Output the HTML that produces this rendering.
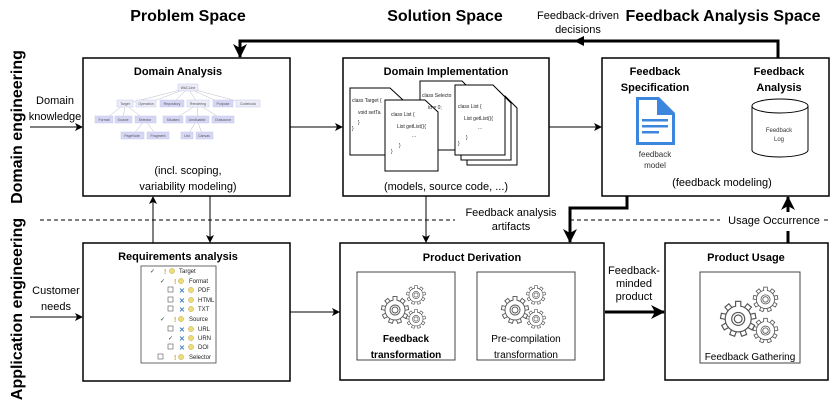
<!DOCTYPE html>
<html><head><meta charset="utf-8"><style>
html,body{margin:0;padding:0;background:#fff;}
svg{display:block;font-family:"Liberation Sans",Arial,sans-serif;}
</style></head><body>
<svg width="831" height="413" viewBox="0 0 831 413" xmlns="http://www.w3.org/2000/svg">
<defs>
<marker id="a" markerWidth="8" markerHeight="8" refX="7" refY="4" orient="auto" markerUnits="userSpaceOnUse"><path d="M0,0 L8,4 L0,8 L2,4 Z" fill="#000"/></marker>
<marker id="A" markerWidth="14" markerHeight="14" refX="13" refY="7" orient="auto" markerUnits="userSpaceOnUse"><path d="M0,0 L14,7 L0,14 L4,7 Z" fill="#000"/></marker>
<g id="tooth"><rect x="-2" y="-13.5" width="4" height="5" fill="#fff" stroke="#555" stroke-width="0.9"/></g>
<g id="gear1">
<use href="#tooth"/><use href="#tooth" transform="rotate(40)"/><use href="#tooth" transform="rotate(80)"/><use href="#tooth" transform="rotate(120)"/><use href="#tooth" transform="rotate(160)"/><use href="#tooth" transform="rotate(200)"/><use href="#tooth" transform="rotate(240)"/><use href="#tooth" transform="rotate(280)"/><use href="#tooth" transform="rotate(320)"/>
<circle r="10" fill="#fff" stroke="#555" stroke-width="0.9"/><rect x="-1.5" y="-11" width="3" height="3" fill="#fff"/>
<circle r="5" fill="none" stroke="#555" stroke-width="0.9"/><circle r="3" fill="none" stroke="#555" stroke-width="0.9"/></g>
<g id="gear2" transform="scale(0.7)"><use href="#gear1"/></g>
<g id="gears"><use href="#gear2" x="15" y="-12"/><use href="#gear1" x="-6" y="3"/><use href="#gear2" x="15" y="12"/></g>
</defs>

<g font-weight="bold" font-size="16" text-anchor="middle">
<text x="188" y="21">Problem Space</text>
<text x="445" y="21">Solution Space</text>
<text x="723" y="21">Feedback Analysis Space</text>
</g>
<text x="578" y="19" font-size="11" text-anchor="middle">Feedback-driven</text>
<text x="578" y="33" font-size="11" text-anchor="middle">decisions</text>

<text transform="translate(22,127) rotate(-90)" font-weight="bold" font-size="16" text-anchor="middle">Domain engineering</text>
<text transform="translate(22,309) rotate(-90)" font-weight="bold" font-size="16" text-anchor="middle">Application engineering</text>

<line x1="40" y1="220" x2="455" y2="220" stroke="#000" stroke-dasharray="4 3"/>
<line x1="570" y1="220" x2="720" y2="220" stroke="#000" stroke-dasharray="4 3"/>
<line x1="824" y1="220" x2="831" y2="220" stroke="#000" stroke-dasharray="4 3"/>
<text x="774" y="224" font-size="11" text-anchor="middle">Usage Occurrence</text>
<text x="511" y="216" font-size="11" text-anchor="middle">Feedback analysis</text>
<text x="511" y="230" font-size="11" text-anchor="middle">artifacts</text>

<polyline points="778,58 778,41 240,41 240,57" fill="none" stroke="#000" stroke-width="3" marker-end="url(#A)"/>
<path d="M574,36 L584,41 L574,46 Z" fill="#000" transform="rotate(180 579 41)"/>
<polyline points="627,196 627,208 570,208 570,242" fill="none" stroke="#000" stroke-width="3" marker-end="url(#A)"/>
<line x1="788" y1="243" x2="788" y2="231" stroke="#000" stroke-width="3"/>
<line x1="788" y1="212" x2="788" y2="197" stroke="#000" stroke-width="3" marker-end="url(#A)"/>
<line x1="605" y1="312" x2="664" y2="312" stroke="#000" stroke-width="3" marker-end="url(#A)"/>
<text x="634" y="274" font-size="11" text-anchor="middle">Feedback-</text>
<text x="634" y="287" font-size="11" text-anchor="middle">minded</text>
<text x="634" y="300" font-size="11" text-anchor="middle">product</text>

<line x1="30" y1="127" x2="82" y2="127" stroke="#000" marker-end="url(#a)"/>
<text x="55" y="104" font-size="11" text-anchor="middle">Domain</text>
<text x="55" y="120" font-size="11" text-anchor="middle">knowledge</text>
<line x1="30" y1="317" x2="82" y2="317" stroke="#000" marker-end="url(#a)"/>
<text x="56" y="294" font-size="11" text-anchor="middle">Customer</text>
<text x="56" y="310" font-size="11" text-anchor="middle">needs</text>
<line x1="290" y1="127" x2="342" y2="127" stroke="#000" marker-end="url(#a)"/>
<line x1="549" y1="127" x2="601" y2="127" stroke="#000" marker-end="url(#a)"/>
<line x1="290" y1="312" x2="339" y2="312" stroke="#000" marker-end="url(#a)"/>
<line x1="153" y1="243" x2="153" y2="197" stroke="#000" marker-end="url(#a)"/>
<line x1="210" y1="196" x2="210" y2="242" stroke="#000" marker-end="url(#a)"/>
<line x1="426" y1="196" x2="426" y2="242" stroke="#000" marker-end="url(#a)"/>

<g fill="#fff" stroke="#000" stroke-width="1.5">
<rect x="83" y="58" width="207" height="138"/>
<rect x="83" y="243" width="207" height="138"/>
<rect x="343" y="58" width="206" height="138"/>
<rect x="602" y="58" width="227" height="138"/>
<rect x="340" y="243" width="264" height="137"/>
<rect x="665" y="243" width="163" height="137"/>
</g>

<text x="178" y="75" font-weight="bold" font-size="11" text-anchor="middle">Domain Analysis</text>
<g font-size="4" fill="#555" stroke="#aab" stroke-width="0.4">
<line x1="188" y1="88" x2="125" y2="104"/><line x1="188" y1="88" x2="146" y2="104"/><line x1="188" y1="88" x2="172" y2="104"/><line x1="188" y1="88" x2="198" y2="104"/><line x1="188" y1="88" x2="223" y2="104"/><line x1="188" y1="88" x2="248" y2="104"/>
<line x1="125" y1="104" x2="104" y2="120"/><line x1="125" y1="104" x2="123" y2="120"/><line x1="125" y1="104" x2="145" y2="120"/>
<line x1="198" y1="104" x2="173" y2="120"/><line x1="198" y1="104" x2="197" y2="120"/><line x1="198" y1="104" x2="223" y2="120"/>
<line x1="145" y1="120" x2="132" y2="136"/><line x1="145" y1="120" x2="157" y2="136"/>
<line x1="197" y1="120" x2="187" y2="136"/><line x1="197" y1="120" x2="203" y2="136"/>
</g>
<g fill="#d6d6f5" stroke="#c8c8ee" stroke-width="0.5">
<rect x="178" y="84" width="20" height="7" fill="#ececf8"/>
<rect x="117" y="100" width="16" height="7" fill="#ececf8"/><rect x="136" y="100" width="20" height="7" fill="#ececf8"/><rect x="160" y="100" width="24" height="7"/><rect x="187" y="100" width="22" height="7" fill="#ececf8"/><rect x="213" y="100" width="20" height="7"/><rect x="236" y="100" width="24" height="7" fill="#ececf8"/>
<rect x="95" y="116" width="18" height="7"/><rect x="115" y="116" width="17" height="7"/><rect x="135" y="116" width="21" height="7"/>
<rect x="163" y="116" width="20" height="7"/><rect x="186" y="116" width="23" height="7"/><rect x="212" y="116" width="22" height="7"/>
<rect x="121" y="132" width="23" height="7"/><rect x="147" y="132" width="22" height="7"/><rect x="181" y="132" width="12" height="7"/><rect x="196" y="132" width="17" height="7"/>
</g>
<g font-size="3.5" fill="#555" text-anchor="middle">
<text x="188" y="89">WACLine</text><text x="125" y="105">Target</text><text x="146" y="105">Operation</text><text x="172" y="105">Repository</text><text x="198" y="105">Rendering</text><text x="223" y="105">Purpose</text><text x="248" y="105">Codebook</text>
<text x="104" y="121">Format</text><text x="123" y="121">Source</text><text x="145" y="121">Selector</text><text x="173" y="121">Situated</text><text x="197" y="121">Unsituated</text><text x="223" y="121">Outsource</text>
<text x="132" y="137">PageNote</text><text x="158" y="137">Fragment</text><text x="187" y="137">List</text><text x="204" y="137">Canvas</text>
</g>
<text x="188" y="174" font-size="11" text-anchor="middle">(incl. scoping,</text>
<text x="188" y="190" font-size="11" text-anchor="middle">variability modeling)</text>

<text x="178" y="260" font-weight="bold" font-size="11" text-anchor="middle">Requirements analysis</text>
<rect x="141" y="266" width="75" height="97" fill="#fff" stroke="#444" stroke-width="0.8"/>
<g font-size="6" fill="#222">
<text x="179" y="273">Target</text><text x="189" y="283">Format</text><text x="198" y="292">PDF</text><text x="198" y="302">HTML</text><text x="198" y="311">TXT</text><text x="189" y="321">Source</text><text x="198" y="331">URL</text><text x="198" y="340">URN</text><text x="198" y="349">DOI</text><text x="189" y="359">Selector</text>
</g>
<g fill="#eedd77" stroke="#aa9933" stroke-width="0.4">
<circle cx="172" cy="271" r="2.6"/><circle cx="181" cy="281" r="2.6"/><circle cx="191" cy="290" r="2.6"/><circle cx="191" cy="300" r="2.6"/><circle cx="191" cy="309" r="2.6"/><circle cx="181" cy="319" r="2.6"/><circle cx="191" cy="329" r="2.6"/><circle cx="191" cy="338" r="2.6"/><circle cx="191" cy="347" r="2.6"/><circle cx="181" cy="357" r="2.6"/>
</g>
<g fill="#3b7fc4" font-size="7" font-weight="bold"><text x="179" y="293">✕</text><text x="179" y="303">✕</text><text x="179" y="312">✕</text><text x="179" y="332">✕</text><text x="179" y="341">✕</text><text x="179" y="350">✕</text></g>
<g fill="#c9a040" font-size="7" font-weight="bold"><text x="164" y="274">!</text><text x="174" y="284">!</text><text x="174" y="322">!</text><text x="174" y="360">!</text></g>
<g fill="none" stroke="#555" stroke-width="0.6"><rect x="168" y="287" width="5" height="5"/><rect x="168" y="297" width="5" height="5"/><rect x="168" y="306" width="5" height="5"/><rect x="168" y="326" width="5" height="5"/><rect x="168" y="344" width="5" height="5"/><rect x="158" y="354" width="5" height="5"/></g>
<g font-size="6" fill="#333"><text x="150" y="273">✓</text><text x="160" y="283">✓</text><text x="160" y="321">✓</text><text x="168" y="340">✓</text></g>

<text x="446" y="75" font-weight="bold" font-size="11" text-anchor="middle">Domain Implementation</text>
<g fill="#fff" stroke="#000" stroke-width="1">
<path d="M420,81 L462,81 L474,93 L474,150 L420,150 Z"/>
<path d="M350,88 L390,88 L403,100 L403,155 L350,155 Z"/>
<path d="M467,96 L505,96 L517,108 L517,165 L467,165 Z"/>
<path d="M461,91 L499,91 L511,103 L511,160 L461,160 Z"/>
<path d="M455,85 L493,85 L505,97 L505,155 L455,155 Z"/>
<path d="M385,100 L425,100 L438,112 L438,171 L385,171 Z"/>
</g>
<g font-size="5" fill="#222">
<text x="422" y="97">class Selecto</text><text x="428" y="109">id = 0;</text>
<text x="352" y="102">class Target {</text><text x="358" y="114">void setTa</text><text x="358" y="124">}</text><text x="352" y="130">}</text>
<text x="391" y="116">class List {</text><text x="397" y="128">List getList(){</text><text x="412" y="137">...</text><text x="399" y="147">}</text><text x="391" y="153">}</text>
<text x="458" y="108">class List {</text><text x="464" y="120">List getList(){</text><text x="478" y="129">...</text><text x="466" y="139">}</text><text x="458" y="145">}</text>
</g>
<text x="446" y="190" font-size="11" text-anchor="middle">(models, source code, ...)</text>

<g font-weight="bold" font-size="11" text-anchor="middle">
<text x="655" y="75">Feedback</text><text x="655" y="91">Specification</text>
<text x="779" y="75">Feedback</text><text x="779" y="91">Analysis</text>
</g>
<path d="M636,97 L659,97 L675,113 L675,145 L636,145 Z" fill="#3d86dd"/>
<path d="M639,100 L657,100 L657,115 L672,115 L672,142 L639,142 Z" fill="#fff"/>
<rect x="642" y="119" width="26" height="2.5" fill="#3d86dd"/><rect x="642" y="125" width="26" height="2.5" fill="#3d86dd"/><rect x="642" y="131" width="17" height="2.5" fill="#3d86dd"/>
<text x="655" y="157" font-size="8" text-anchor="middle" fill="#333">feedback</text>
<text x="655" y="168" font-size="8" text-anchor="middle" fill="#333">model</text>
<path d="M752,106 L752,150 A28,7 0 0 0 808,150 L808,106" fill="#fff" stroke="#000"/>
<ellipse cx="780" cy="106" rx="28" ry="7" fill="#fff" stroke="#000"/>
<text x="779" y="132" font-size="6" text-anchor="middle" fill="#333">Feedback</text>
<text x="779" y="141" font-size="6" text-anchor="middle" fill="#333">Log</text>
<text x="722" y="186" font-size="11" text-anchor="middle">(feedback modeling)</text>

<text x="472" y="261" font-weight="bold" font-size="11" text-anchor="middle">Product Derivation</text>
<rect x="357" y="272" width="98" height="88" fill="#fff" stroke="#444"/>
<rect x="477" y="272" width="98" height="88" fill="#fff" stroke="#444"/>
<use href="#gears" x="401" y="307"/>
<use href="#gears" x="521" y="307"/>
<text x="406" y="342" font-size="10" font-weight="bold" text-anchor="middle">Feedback</text>
<text x="406" y="358" font-size="10" font-weight="bold" text-anchor="middle">transformation</text>
<text x="526" y="342" font-size="10" text-anchor="middle">Pre-compilation</text>
<text x="526" y="358" font-size="10" text-anchor="middle">transformation</text>

<text x="746" y="261" font-weight="bold" font-size="11" text-anchor="middle">Product Usage</text>
<rect x="700" y="272" width="100" height="91" fill="#fff" stroke="#444"/>
<g transform="translate(746,315) scale(1.3)"><use href="#gears"/></g>
<text x="750" y="360" font-size="10" text-anchor="middle">Feedback Gathering</text>
</svg>
</body></html>
